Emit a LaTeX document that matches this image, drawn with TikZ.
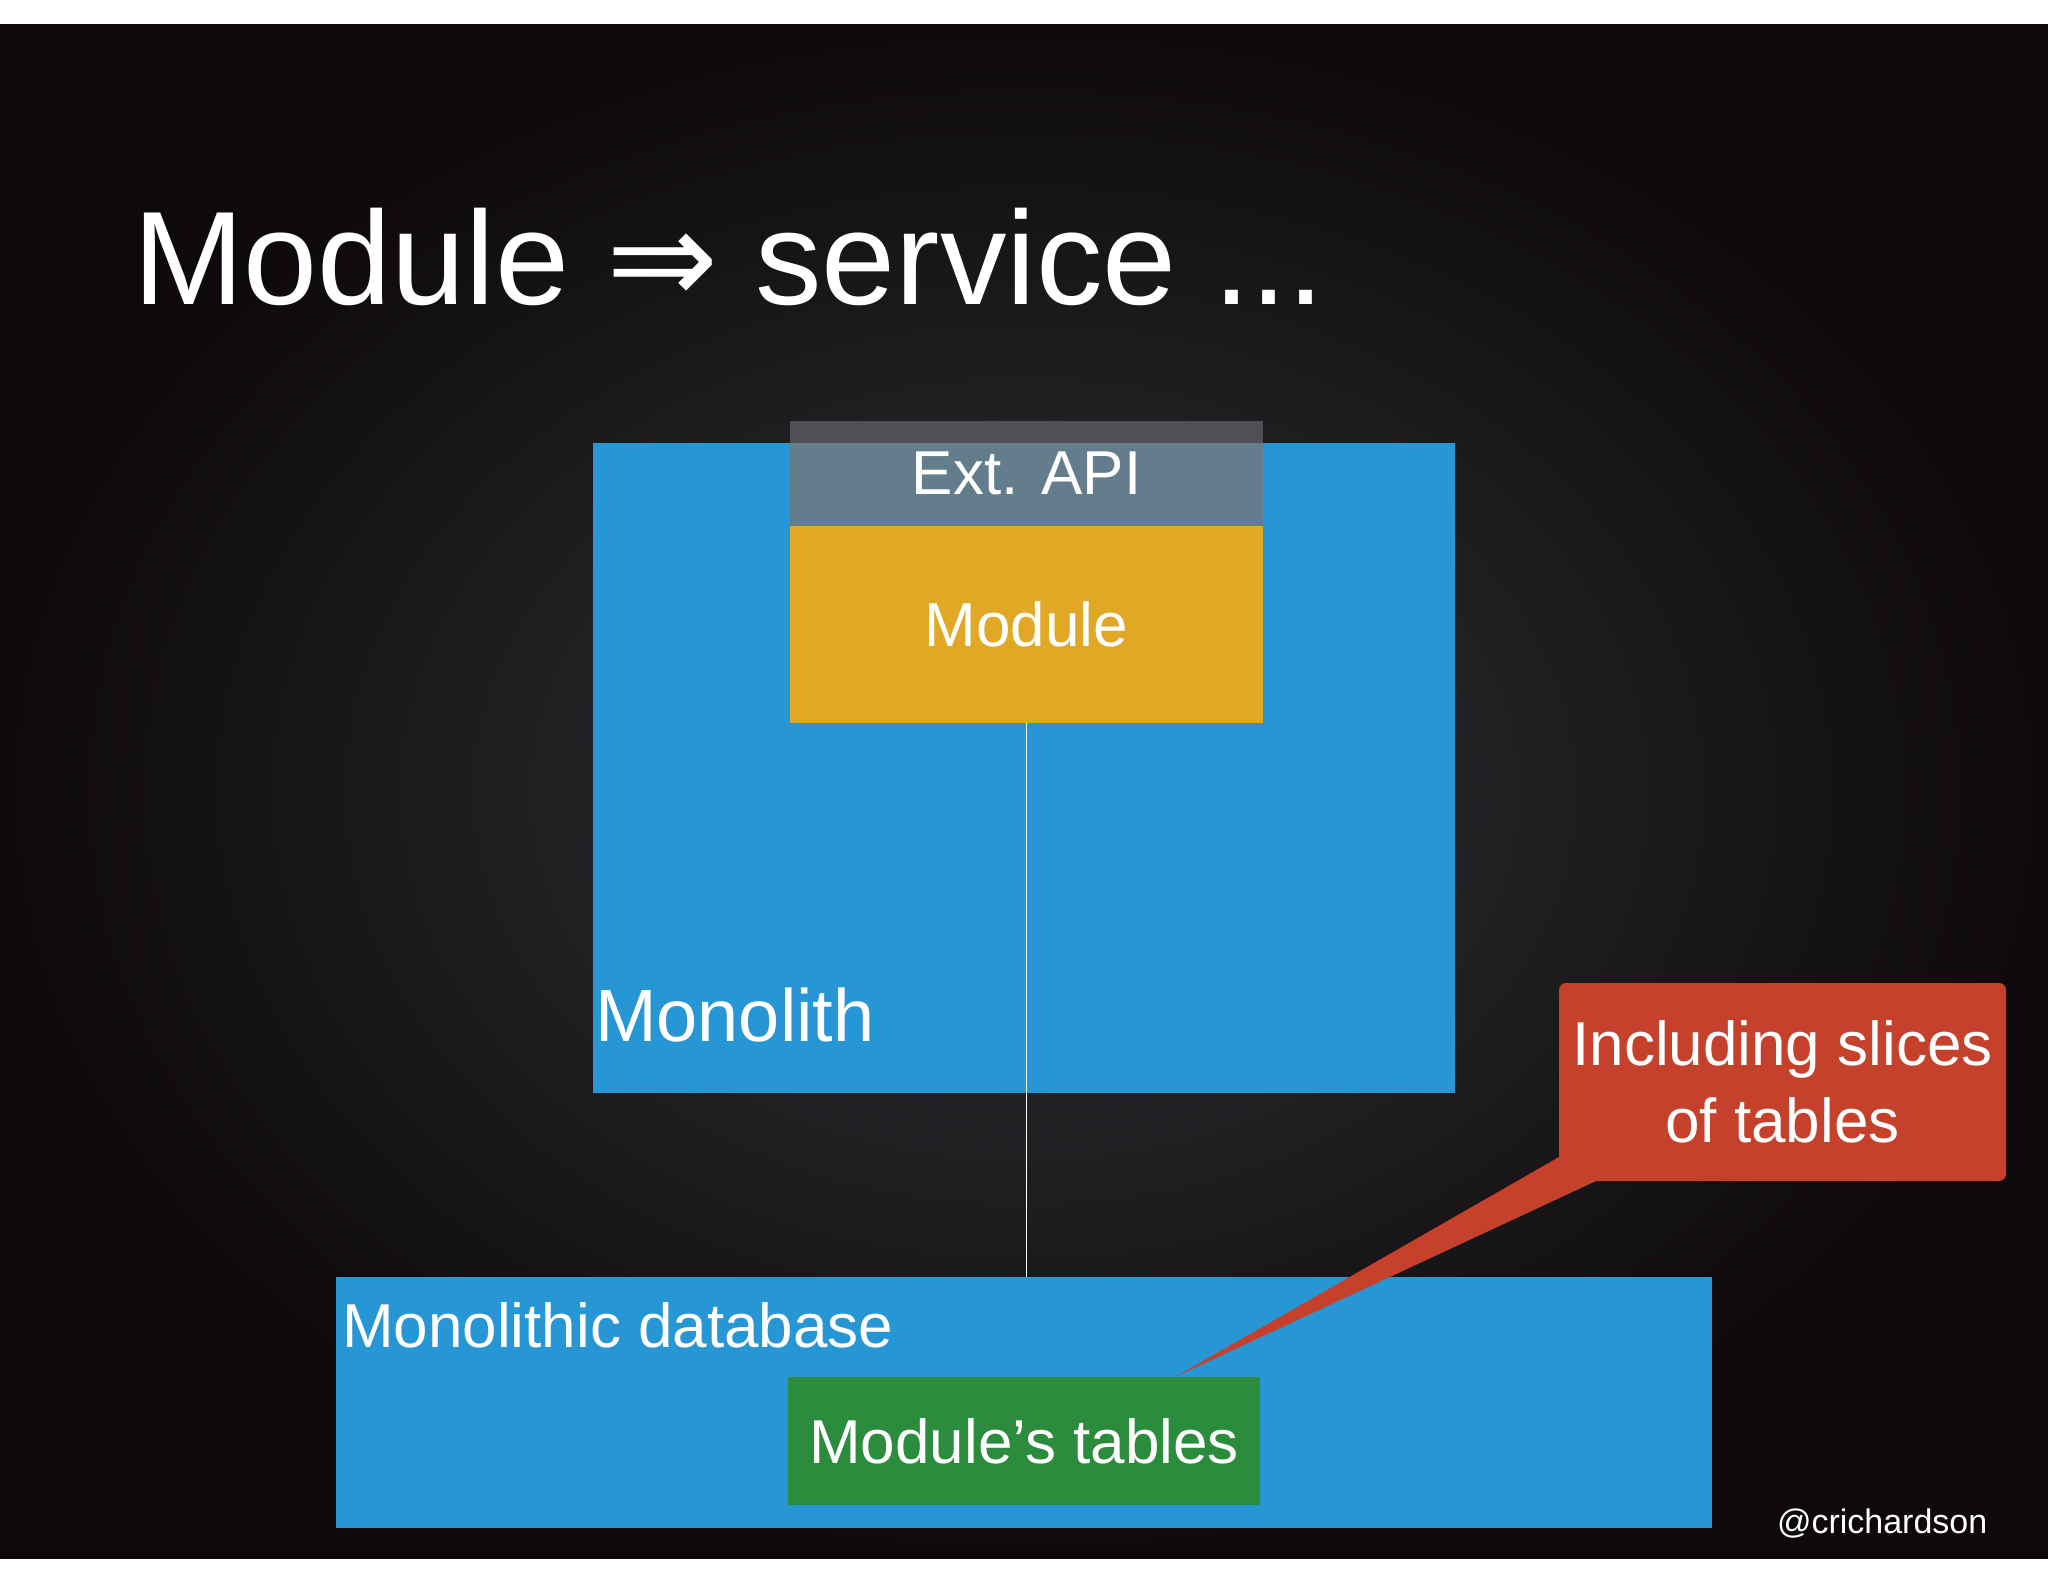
\documentclass[tikz,border=0pt]{standalone}
\usepackage{fontspec}
\setmainfont{Liberation Sans}
\newfontfamily\arrowfont{DejaVu Sans}
\definecolor{monoblue}{HTML}{2796D5}
\definecolor{modyellow}{HTML}{E0A824}
\definecolor{apigray}{HTML}{637D8C}
\definecolor{apitop}{HTML}{4E5053}
\definecolor{tblgreen}{HTML}{2A8C3C}
\definecolor{callred}{HTML}{C6412B}
\definecolor{bgin}{HTML}{303237}
\definecolor{bgout}{HTML}{0E0A0B}
\tikzset{
  box/.style={inner sep=0pt, outer sep=0pt, draw=none},
  lbl/.style={text=white, inner sep=0pt, outer sep=0pt},
  f62/.style={font=\fontsize{62}{77}\selectfont},
}
\begin{document}
\begin{tikzpicture}[x=1pt,y=-1pt]
% canvas
\fill[white] (0,0) rectangle (2048,1582);
\useasboundingbox (0,0) rectangle (2048,1582);
\shade[inner color=bgin, outer color=bgout] (0,24) rectangle (2048,1558);

% title
\node[lbl, anchor=base west, font=\fontsize{133}{150}\selectfont] (title) at (133,304)
  {Module {\arrowfont\fontsize{134}{140}\selectfont ⇒} service ...};

% monolith
\node[box, fill=monoblue, minimum width=862pt, minimum height=650pt] (mono) at (1024,768) {};
\node[lbl, anchor=base west, font=\fontsize{74}{80}\selectfont] (monolbl) at (595,1041) {Monolith};

% ext api + module
\node[box, fill=apigray, minimum width=473pt, minimum height=105pt] (api) at (1026.5,473.5) {};
\fill[apitop] (api.north west) rectangle (api.north east |- mono.north);
\node[lbl, f62] (apilbl) at (api.center) {Ext. API};
\node[box, fill=modyellow, minimum width=473pt, minimum height=197pt, lbl, f62] (module) at (1026.5,624.5) {Module};

% database
\node[box, fill=monoblue, minimum width=1376pt, minimum height=251pt] (db) at (1024,1402.5) {};
\node[lbl, anchor=base west, f62] (dblbl) at (342,1347) {Monolithic database};
\node[box, fill=tblgreen, minimum width=472pt, minimum height=128pt, lbl, f62] (tables) at (1024,1441) {Module’s tables};

% connector
\draw[white, line width=1.5pt] (module.south) -- (module.south |- db.north);

% callout
\coordinate (tip) at (1175,1377);
\coordinate (tailA) at (1559,1157);
\coordinate (tailB) at (1596,1181);
\fill[callred] (tip) -- (tailA) -- (1575,1181) -- (tailB) -- cycle;
\node[box, fill=callred, rounded corners=7pt, minimum width=447pt, minimum height=198pt,
      lbl, f62, align=center] (note) at (1782.5,1082) {Including slices\\of tables};
\fill[callred] (1559,1150) rectangle (1600,1181);

% credit
\node[lbl, anchor=base west, font=\fontsize{34}{40}\selectfont] (credit) at (1777,1533) {@crichardson};
\end{tikzpicture}
\end{document}
